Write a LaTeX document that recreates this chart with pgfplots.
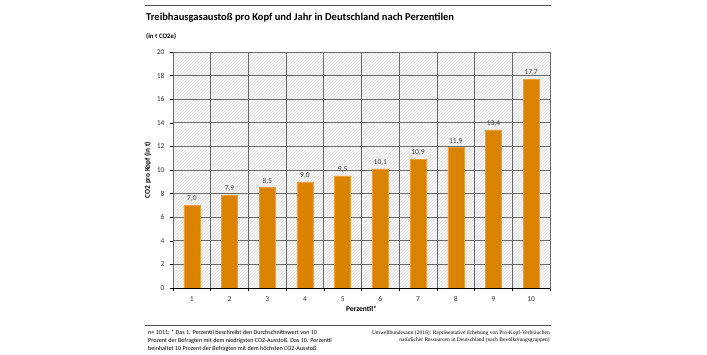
\documentclass[border=0pt]{standalone}
\usepackage{fontspec}
\setmainfont{Carlito}
\newfontfamily\seriffont{Liberation Serif}
\usepackage{pgfplots}
\pgfplotsset{compat=1.18}
\usetikzlibrary{patterns}
\definecolor{barfill}{RGB}{217,131,0}
\definecolor{baredge}{RGB}{238,160,60}
\definecolor{gridc}{RGB}{105,105,105}
\begin{document}
\begin{tikzpicture}
\useasboundingbox (0pt,0pt) rectangle (707pt,354pt);
\fill[white] (0pt,0pt) rectangle (707pt,354pt);
\draw[gray!60!black, line width=1pt] (145pt,348pt) -- (551pt,348pt);
\node[anchor=west, inner sep=0pt, font=\bfseries\fontsize{10.5}{12}\selectfont] at (146pt,336pt) {Treibhausgasaustoß pro Kopf und Jahr in Deutschland nach Perzentilen};
\node[anchor=west, inner sep=0pt, font=\bfseries\fontsize{6.8}{8}\selectfont] at (146pt,318pt) {(in t CO2e)};
\begin{axis}[
  at={(173pt,66pt)}, anchor=south west,
  scale only axis, width=377pt, height=236pt,
  xmin=0.5, xmax=10.5, ymin=0, ymax=20,
  ytick={0,2,...,20},
  xtick={1,...,10},
  minor xtick={0.5,1.5,...,10.5},
  major x tick style={draw=none},
  minor x tick style={draw=black, line width=0.6pt},
  minor tick length=3pt,
  major tick length=3pt,
  y tick style={draw=black, line width=0.5pt},
  tick align=outside,
  xtick pos=bottom, ytick pos=left,
  ymajorgrids, xminorgrids,
  grid style={gridc, line width=0.8pt},
  minor grid style={gridc, line width=0.8pt},
  axis line style={gridc, line width=0.8pt},
  axis background/.style={preaction={fill=gray!6}, pattern=north east lines, pattern color=gray!22},
  /pgf/number format/assume math mode=true,
  tick label style={font=\fontsize{7.5}{9}\selectfont, text=black!80},
  yticklabel style={xshift=-2pt},
  xticklabel style={yshift=-2pt},
  ylabel={CO2 pro Kopf (in t)},
  ylabel style={font=\bfseries\fontsize{7.3}{9}\selectfont, yshift=-1pt},
  xlabel={Perzentil*},
  xlabel style={font=\bfseries\fontsize{7.5}{9}\selectfont, yshift=2pt},
  ybar, bar width=16pt,
  nodes near coords,
  nodes near coords style={font=\fontsize{7.5}{9}\selectfont, text=black!75, /pgf/number format/.cd, fixed, fixed zerofill, precision=1, use comma, assume math mode=true},
]
\addplot[fill=barfill, draw=baredge, line width=0.5pt] coordinates {
(1,7.0) (2,7.9) (3,8.5) (4,9.0) (5,9.5) (6,10.1) (7,10.9) (8,11.9) (9,13.4) (10,17.7)};
\draw[black, line width=1pt] (axis cs:0.5,0) -- (axis cs:10.5,0);
\end{axis}
\draw[gray!60!black, line width=1pt] (145pt,29pt) -- (551pt,29pt);
\node[anchor=north west, inner sep=0pt, align=left, font=\fontsize{6.1}{8.2}\selectfont] at (148pt,24pt) {n= 1011; * Das 1. Perzentil beschreibt den Durchschnittswert von 10\\Prozent der Befragten mit dem niedrigsten CO2-Aussto\ss. Das 10. Perzentil\\beinhaltet 10 Prozent der Befragten mit dem h\"ochsten CO2-Aussto\ss.};
\node[anchor=north east, inner sep=0pt, align=right, font=\seriffont\fontsize{5.5}{7.8}\selectfont] at (550pt,24pt) {Umweltbundesamt (2016): Repr\"asentative Erhebung von Pro-Kopf-Verbr\"auchen\\nat\"urlicher Ressourcen in Deutschland (nach Bev\"olkerungsgruppen)};
\end{tikzpicture}
\end{document}
